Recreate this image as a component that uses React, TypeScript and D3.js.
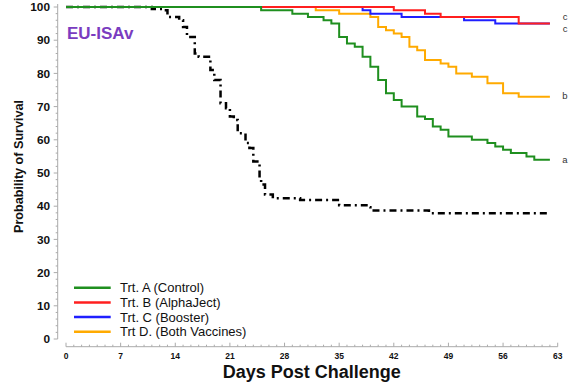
import * as d3 from "d3";

// survival steps: [day, percent]
const trtA: [number, number][] = [
  [0, 100], [25, 99], [29, 98], [31, 97], [33, 96], [34, 95], [35, 91], [36, 89], [37, 88],
  [38, 85], [39, 82], [40, 78], [41, 74], [42, 72], [43, 70], [45, 67], [46, 66.3], [47, 64],
  [48, 63], [49, 61], [52, 60], [54, 59], [55, 58], [56, 57], [57, 56], [59, 55], [60, 54], [62, 54],
];
const trtB: [number, number][] = [
  [0, 100], [42, 99], [46, 98], [48, 97], [58, 95], [62, 95],
];
const trtC: [number, number][] = [
  [0, 100], [38, 99], [39, 98], [43, 97], [51, 96], [55, 95], [62, 95],
];
const trtD: [number, number][] = [
  [0, 100], [32, 99], [35, 98], [39, 97], [40, 94], [41, 93], [42, 92], [43, 91], [44, 88],
  [45, 87], [46, 84], [48, 83], [49, 82], [50, 80], [52, 79], [54, 77], [56, 74], [58, 73], [62, 73],
];
const unvaccinated: [number, number][] = [
  [0, 100], [11, 99.4], [12.5, 99], [13, 97], [14.5, 96], [15, 94], [15.5, 91], [16.5, 86],
  [17, 85], [18.5, 81], [19, 78], [19.8, 71], [20.5, 69.5], [21, 67], [21.5, 66], [22, 62],
  [23, 59], [23.5, 57.5], [24, 53.5], [24.8, 48], [25, 46.5], [25.5, 43.5], [26.5, 42.4],
  [30, 41.9], [35, 40.3], [38.5, 39.7], [39, 38.7], [46.5, 37.9], [62, 37.9],
];

const legendNames = ["Trt. A (Control)", "Trt. B (AlphaJect)", "Trt. C (Booster)", "Trt D. (Both Vaccines)"];
const legendColors = ["#1f8f1f", "#ff1f1f", "#1f1fff", "#ffaa00"];
const endLetters = ["a", "c", "c", "b"];
const xTickDays = [0, 7, 14, 21, 28, 35, 42, 49, 56, 63];
const yTickValues = [0, 10, 20, 30, 40, 50, 60, 70, 80, 90, 100];

const FONT = "'Liberation Sans', Arial, sans-serif";

export default function App() {
  const width = 580;
  const height = 389;
  const x = d3.scaleLinear().domain([0, 63]).range([66, 557.7]);
  const y = d3.scaleLinear().domain([0, 100]).range([339, 7]);
  const axisY = 346.7;
  const axisX = 57.7;

  const line = d3.line<[number, number]>()
    .x(d => x(d[0]))
    .y(d => y(d[1]))
    .curve(d3.curveStepAfter);

  const series = [trtA, trtB, trtC, trtD];
  // the two c's sit one above the other at the shared end value
  const letterY = [y(54), y(95) - 6, y(95) + 5.5, y(73)];

  return (
    <svg width={width} height={height} style={{ position: "absolute", left: 0, top: 0, background: "#fff" }}
      fontFamily={FONT}>
      {/* y axis */}
      <line x1={axisX} x2={axisX} y1={y(0)} y2={y(100) - 3} stroke="#aaa" strokeWidth={1} />
      {d3.range(0, 101, 2).map(v => (
        <line key={"yt" + v} x1={axisX} x2={axisX - (v % 10 === 0 ? 4 : 2)} y1={y(v)} y2={y(v)} stroke="#aaa" strokeWidth={1} />
      ))}
      {yTickValues.map(v => (
        <text key={"yl" + v} x={50} y={y(v)} dy="0.36em" textAnchor="end" fontSize={11.8} fontWeight="bold" fill="#111">{v}</text>
      ))}
      <text transform={`translate(23,166.5) rotate(-90)`} textAnchor="middle" fontSize={12.6} fontWeight="bold" fill="#111">
        Probability of Survival
      </text>

      {/* x axis */}
      <line x1={x(0)} x2={x(63)} y1={axisY} y2={axisY} stroke="#aaa" strokeWidth={1} />
      {d3.range(0, 64).map(d => (
        <line key={"xt" + d} x1={x(d)} x2={x(d)} y1={axisY} y2={axisY - (d % 7 === 0 ? 4 : 2)} stroke="#aaa" strokeWidth={1} />
      ))}
      {xTickDays.map(d => (
        <text key={"xl" + d} x={x(d)} y={359} textAnchor="middle" fontSize={8.5} fontWeight="bold" fill="#111">{d}</text>
      ))}
      <text x={(x(0) + x(63)) / 2} y={378} textAnchor="middle" fontSize={18} fontWeight="bold" fill="#111">
        Days Post Challenge
      </text>

      {/* title */}
      <text x={67} y={38.5} fontSize={17} fontWeight="bold" fill="#7a3cc0">EU-ISAv</text>

      {/* curves */}
      <path d={line(unvaccinated) ?? ""} fill="none" stroke="#000" strokeWidth={2.5} strokeDasharray="7,4,2,4" />
      {[3, 2, 1, 0].map(i => (
        <path key={"s" + i} d={line(series[i]) ?? ""} fill="none" stroke={legendColors[i]} strokeWidth={2} />
      ))}
      {endLetters.map((l, i) => (
        <text key={"el" + i} x={565} y={letterY[i]} dy="0.3em" textAnchor="middle" fontSize={9.5} fill="#333">{l}</text>
      ))}

      {/* legend */}
      {legendNames.map((n, i) => {
        const ly = 287.7 + i * 14.7;
        return (
          <g key={"lg" + i}>
            <line x1={74} x2={110.7} y1={ly} y2={ly} stroke={legendColors[i]} strokeWidth={2.5} />
            <text x={120} y={ly} dy="0.36em" fontSize={13} fill="#111">{n}</text>
          </g>
        );
      })}
    </svg>
  );
}
